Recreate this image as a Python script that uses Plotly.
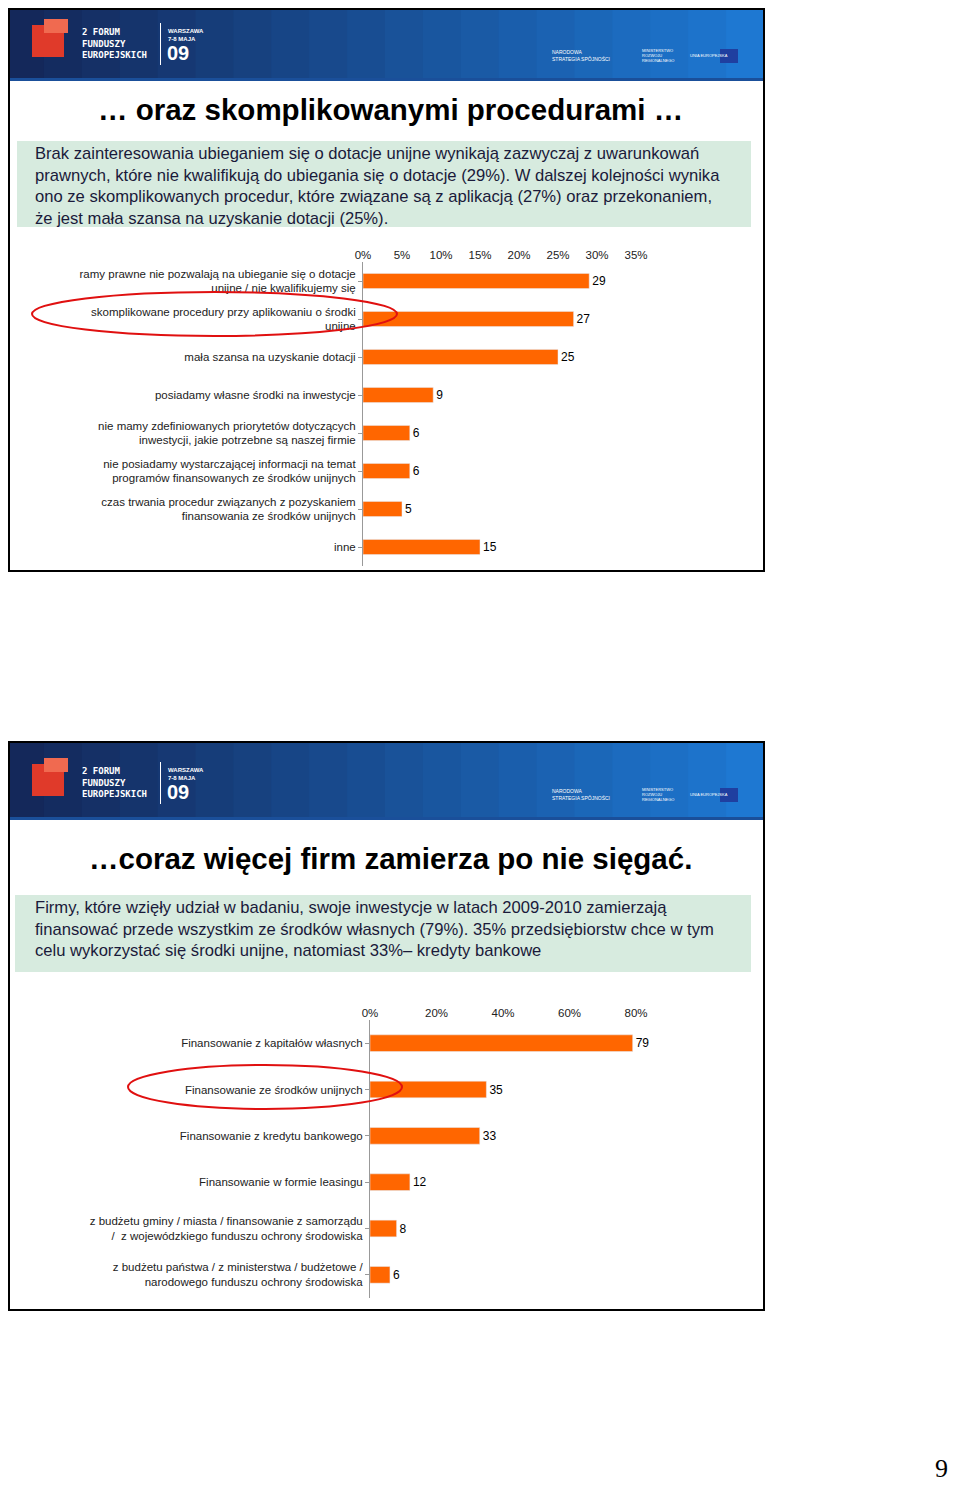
import plotly.graph_objects as go

W, H = 944, 1478
OFF = 8
cats1 = ["ramy prawne nie pozwalają na ubieganie się o dotacje<br>unijne / nie kwalifikujemy się",
         "skomplikowane procedury przy aplikowaniu o środki<br>unijne",
         "mała szansa na uzyskanie dotacji",
         "posiadamy własne środki na inwestycje",
         "nie mamy zdefiniowanych priorytetów dotyczących<br>inwestycji, jakie potrzebne są naszej firmie",
         "nie posiadamy wystarczającej informacji na temat<br>programów finansowanych ze środków unijnych",
         "czas trwania procedur związanych z pozyskaniem<br>finansowania ze środków unijnych",
         "inne"]
vals1 = [29, 27, 25, 9, 6, 6, 5, 15]
ticks1 = [0, 5, 10, 15, 20, 25, 30, 35]

cats2 = ["Finansowanie z kapitałów własnych",
         "Finansowanie ze środków unijnych",
         "Finansowanie z kredytu bankowego",
         "Finansowanie w formie leasingu",
         "z budżetu gminy / miasta / finansowanie z samorządu<br>/  z wojewódzkiego funduszu ochrony środowiska",
         "z budżetu państwa / z ministerstwa / budżetowe /<br>narodowego funduszu ochrony środowiska"]
vals2 = [79, 35, 33, 12, 8, 6]
ticks2 = [0, 20, 40, 60, 80]

def px(x): return (x - OFF) / W
def py(y): return 1 - (y - OFF) / H

fig = go.Figure()
fig.add_trace(go.Bar(y=cats1, x=vals1, orientation="h", marker_color="#FF6600", width=0.4,
                     text=[str(v) for v in vals1], textposition="outside",
                     textfont=dict(size=12, color="black"), cliponaxis=False,
                     xaxis="x", yaxis="y"))
fig.add_trace(go.Bar(y=cats2, x=vals2, orientation="h", marker_color="#FF6600", width=0.36,
                     text=[str(v) for v in vals2], textposition="outside",
                     textfont=dict(size=12, color="black"), cliponaxis=False,
                     xaxis="x2", yaxis="y2"))

axfont = dict(family="Liberation Sans, Arial", size=11.5, color="#222")
tkfont = dict(family="Liberation Sans, Arial", size=11.5, color="#222")
fig.update_layout(
    width=W, height=H, margin=dict(l=0, r=0, t=0, b=0, autoexpand=False), showlegend=False,
    paper_bgcolor="white", plot_bgcolor="rgba(0,0,0,0)",
    font=dict(family="Liberation Sans, Arial"),
    xaxis=dict(domain=[px(363), px(636)], range=[0, 35], side="top", tickvals=ticks1,
               ticktext=[f"{t}%" for t in ticks1], showgrid=False, zeroline=False,
               showline=False, ticks="", tickfont=tkfont, anchor="y", automargin=False),
    yaxis=dict(domain=[py(566), py(262)], autorange="reversed", showgrid=False,
               showline=True, linecolor="#999", ticks="outside", ticklen=4, tickcolor="#999",
               tickfont=axfont, anchor="x", automargin=False),
    xaxis2=dict(domain=[px(370), px(636)], range=[0, 80], side="top", tickvals=ticks2,
                ticktext=[f"{t}%" for t in ticks2], showgrid=False, zeroline=False,
                showline=False, ticks="", tickfont=tkfont, anchor="y2", automargin=False),
    yaxis2=dict(domain=[py(1298), py(1020)], autorange="reversed", showgrid=False,
                showline=True, linecolor="#999", ticks="outside", ticklen=4, tickcolor="#999",
                tickfont=axfont, anchor="x2", automargin=False),
    bargap=0.5,
)

shapes = []
anns = []
def rect(x0, y0, x1, y1, **kw):
    shapes.append(dict(type="rect", xref="paper", yref="paper", x0=px(x0), x1=px(x1),
                       y0=py(y1), y1=py(y0), **kw))

def ann(text, x, y, **kw):
    d = dict(text=text, x=px(x), y=py(y), xref="paper", yref="paper", showarrow=False)
    d.update(kw)
    anns.append(d)

def slide(top, bottom, title, title_y, box, lines):
    n = 20
    for i in range(n):
        x0 = 6 + i * (758 / n); x1 = 6 + (i + 1) * (758 / n) + 1
        t = i / (n - 1)
        c = (int(20 + t * 10), int(40 + t * 80), int(90 + t * 120))
        rect(x0, top, x1, top + 77, line=dict(width=0), fillcolor=f"rgb{c}", layer="below")
    rect(6, top + 75, 764, top + 78, line=dict(width=0), fillcolor="#1a4f9a")
    rect(9, max(top, 9), 764, bottom, line=dict(color="black", width=2),
         fillcolor="rgba(0,0,0,0)")
    rect(32, top + 22, 64, top + 54, line=dict(width=0), fillcolor="#e03a2a")
    rect(44, top + 16, 68, top + 30, line=dict(width=0), fillcolor="#f06a50")
    ann("<b>2 FORUM<br>FUNDUSZY<br>EUROPEJSKICH</b>", 80, top + 40, xanchor="left",
        yanchor="middle", align="left",
        font=dict(size=9, color="white", family="DejaVu Sans Mono"))
    rect(160, top + 20, 161, top + 62, line=dict(width=0), fillcolor="white")
    ann("<b>WARSZAWA<br>7-8 MAJA</b>", 166, top + 32, xanchor="left", yanchor="middle",
        align="left", font=dict(size=6, color="white"))
    ann("<b>09</b>", 165, top + 50, xanchor="left", yanchor="middle",
        font=dict(size=20, color="white"))
    ann("NARODOWA<br>STRATEGIA SPÓJNOŚCI", 550, top + 52, xanchor="left", yanchor="middle",
        align="left", font=dict(size=5, color="white"))
    ann("MINISTERSTWO<br>ROZWOJU<br>REGIONALNEGO", 640, top + 52, xanchor="left",
        yanchor="middle", align="left", font=dict(size=4, color="white"))
    ann("UNIA EUROPEJSKA", 688, top + 52, xanchor="left", yanchor="middle",
        font=dict(size=4, color="white"))
    rect(720, top + 46, 738, top + 60, line=dict(width=0), fillcolor="#1f3fa0")
    ann(f"<b>{title}</b>", 390, title_y, xanchor="center", yanchor="middle",
        font=dict(size=29.5, color="black", family="Liberation Sans, Arial"))
    rect(box[0], box[1], box[2], box[3], line=dict(width=0), fillcolor="#d7ebdf", layer="below")
    ann("<br>".join(lines), 33, box[1] + 1, xanchor="left", yanchor="top", align="left",
        font=dict(size=16.6, color="#1a1a3a", family="Liberation Sans, Arial"))

slide(3, 571, "… oraz skomplikowanymi procedurami …", 110, (17, 141, 751, 227),
      ["Brak zainteresowania ubieganiem się o dotacje unijne wynikają zazwyczaj z uwarunkowań",
       "prawnych, które nie kwalifikują do ubiegania się o dotacje (29%). W dalszej kolejności wynika",
       "ono ze skomplikowanych procedur, które związane są z aplikacją (27%) oraz przekonaniem,",
       "że jest mała szansa na uzyskanie dotacji (25%)."])
slide(742, 1310, "…coraz więcej firm zamierza po nie sięgać.", 858, (15, 895, 751, 972),
      ["Firmy, które wzięły udział w badaniu, swoje inwestycje w latach 2009-2010 zamierzają",
       "finansować przede wszystkim ze środków własnych (79%). 35% przedsiębiorstw chce w tym",
       "celu wykorzystać się środki unijne, natomiast 33%– kredyty bankowe"])

for (x0, y0, x1, y1) in [(32, 292, 397, 336), (128, 1065, 402, 1109)]:
    shapes.append(dict(type="circle", xref="paper", yref="paper", x0=px(x0), x1=px(x1),
                       y0=py(y1), y1=py(y0), line=dict(color="#e01010", width=2)))

ann("9", 950, 1468, xanchor="right", yanchor="middle",
    font=dict(size=26, color="black", family="Liberation Serif"))

fig.update_layout(shapes=shapes, annotations=anns)
fig.write_html("out.html")
